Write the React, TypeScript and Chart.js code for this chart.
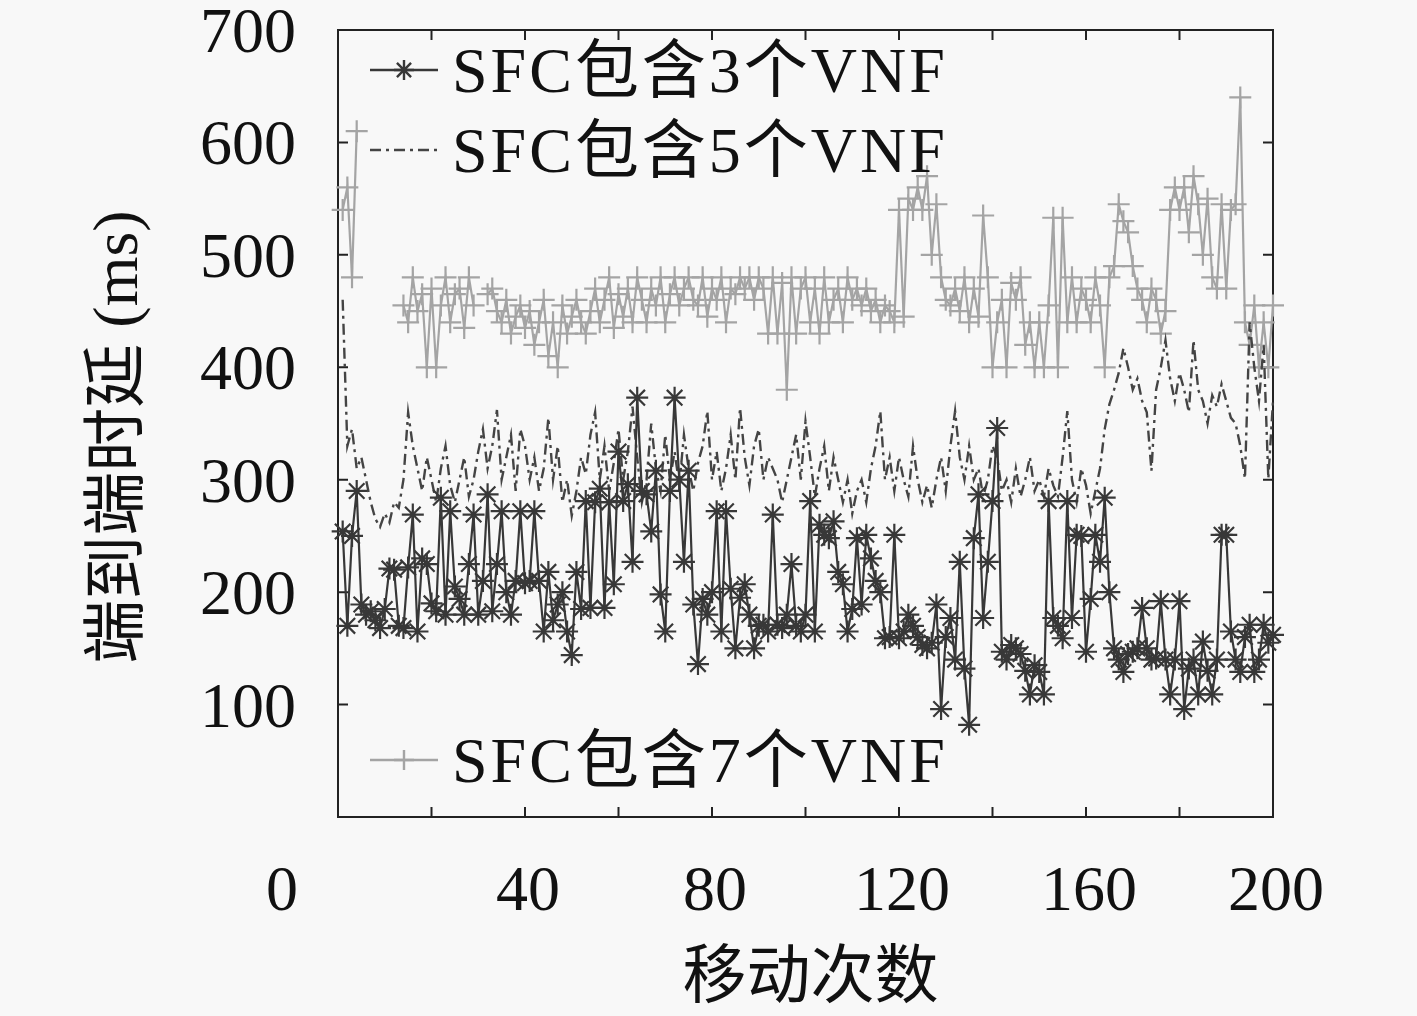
import React, { useEffect, useRef } from 'react';
import { Chart, registerables } from 'chart.js';

Chart.register(...registerables);

// 移动次数 1..200
const vnf3: number[] = [
  254, 170, 250, 290, 189, 180, 183, 175, 168, 185, 221, 220, 170, 168, 222, 269, 165, 230, 225, 190,
  183, 284, 180, 272, 205, 194, 180, 225, 269, 180, 210, 287, 183, 225, 272, 200, 180, 210, 272, 208,
  210, 272, 210, 165, 218, 175, 189, 200, 165, 144, 218, 185, 281, 186, 280, 292, 186, 280, 207, 325,
  281, 296, 227, 373, 290, 287, 254, 308, 198, 165, 290, 373, 300, 227, 308, 189, 136, 194, 180, 200,
  272, 165, 272, 203, 150, 195, 207, 180, 150, 170, 171, 165, 269, 171, 168, 180, 225, 170, 165, 180,
  281, 165, 260, 251, 248, 263, 218, 207, 165, 185, 248, 189, 251, 230, 210, 200, 159, 160, 251, 159,
  165, 180, 170, 160, 153, 150, 155, 189, 96, 160, 177, 140, 227, 132, 82, 248, 287, 177, 227, 281,
  346, 147, 140, 153, 150, 145, 130, 109, 135, 129, 109, 281, 177, 170, 159, 281, 177, 251, 250, 147,
  194, 251, 227, 284, 200, 150, 140, 129, 145, 147, 150, 186, 150, 140, 141, 192, 140, 109, 140, 192,
  96, 132, 140, 109, 156, 130, 109, 140, 251, 251, 165, 140, 129, 160, 171, 129, 140, 171, 155, 162
];

const vnf5: number[] = [
  460, 330, 345, 310, 320, 300, 280, 265, 258, 270, 262, 280, 275, 300, 360, 330, 310, 290, 320, 300,
  280, 310, 330, 295, 280, 300, 320, 285, 300, 325, 345, 310, 330, 362, 300, 320, 340, 290, 345, 330,
  300, 320, 290, 310, 355, 300, 330, 280, 300, 268, 290, 320, 305, 340, 360, 300, 330, 290, 315, 345,
  300, 325, 365, 320, 280, 300, 350, 310, 290, 340, 300, 325, 295, 340, 310, 290, 315, 330, 361, 300,
  325, 290, 310, 340, 300, 364, 320, 295, 330, 345, 300, 320, 310, 300, 280, 300, 320, 340, 300, 352,
  320, 285, 310, 330, 290, 320, 300, 280, 300, 270, 290, 300, 280, 310, 330, 361, 300, 320, 290, 320,
  300, 285, 330, 300, 280, 295, 275, 300, 320, 290, 330, 361, 320, 300, 330, 300, 310, 285, 300, 330,
  320, 290, 300, 280, 310, 285, 300, 320, 290, 300, 285, 310, 295, 285, 320, 361, 300, 280, 310, 295,
  270, 290, 310, 345, 367, 380, 395, 417, 400, 380, 390, 370, 360, 308, 380, 400, 424, 390, 370, 395,
  380, 360, 424, 380, 370, 350, 375, 365, 385, 370, 355, 350, 330, 301, 440, 400, 370, 420, 301, 370
];

const vnf7: (number | null)[] = [
  540, 560, 480, 610, null, null, null, null, null, null, null, null, null, 455, 440, 480, 450, 465, 400, 470,
  400, 455, 480, 440, 465, 470, 435, 480, 455, null, null, 465, 470, 450, 440, 460, 430, 445, 455, 435,
  450, 420, 440, 460, 410, 440, 400, 455, 430, 445, 460, 440, 430, 450, 470, 440, 460, 480, 435, 465,
  445, 470, 440, 480, 460, 440, 470, 455, 480, 440, 465, 480, 455, 470, 480, 460, 455, 480, 445, 470,
  460, 480, 440, 470, 465, 480, 470, 480, 460, 480, 470, 430, 480, 430, 475, 380, 480, 430, 470, 480,
  440, 470, 430, 480, 440, 460, 470, 440, 480, 460, 470, 455, 470, 450, 460, 440, 455, 450, 440, 540,
  445, 550, 540, 560, 540, 570, 500, 545, 480, 460, 455, 470, 450, 480, 440, 470, 445, 535, 480, 400,
  440, 460, 400, 475, 460, 480, 420, 440, 400, 440, 400, 455, 533, 400, 533, 440, 480, 440, 470, 460,
  440, 480, 455, 400, 480, 490, 545, 530, 520, 490, 470, 460, 440, 470, 460, 430, 450, 540, 560, 540,
  560, 520, 570, 545, 500, 550, 480, 470, 545, 470, 540, 545, 640, 440, 420, 455, 400, 440, 400, 455
];

const seriesNames = ['SFC包含3个VNF', 'SFC包含5个VNF', 'SFC包含7个VNF'];
const yTicks = [100, 200, 300, 400, 500, 600, 700];
const xLabelTicks = [0, 40, 80, 120, 160, 200];
const xTitle = '移动次数';
const yTitle = '端到端时延 (ms)';

const FONT = "64px 'Liberation Serif', 'Noto Sans CJK SC', serif";
const INK = '#111';
const C3 = '#383838';
const C5 = '#444444';
const C7 = '#a4a4a4';
const DASH5 = [11, 5, 3, 5];

const toPoints = (arr: (number | null)[]) => arr.map((v, i) => ({ x: i + 1, y: v }));

const drawMarker = (ctx: CanvasRenderingContext2D, kind: string, x: number, y: number, r: number) => {
  ctx.beginPath();
  ctx.moveTo(x - r, y);
  ctx.lineTo(x + r, y);
  ctx.moveTo(x, y - r);
  ctx.lineTo(x, y + r);
  if (kind === 'star') {
    const d = r * Math.SQRT1_2;
    ctx.moveTo(x - d, y - d);
    ctx.lineTo(x + d, y + d);
    ctx.moveTo(x - d, y + d);
    ctx.lineTo(x + d, y - d);
  }
  ctx.stroke();
};

const framePlugin = {
  id: 'gnuFrame',
  beforeDatasetsDraw(chart: any) {
    const { ctx, chartArea: a } = chart;
    const xs = chart.scales.x;
    const ys = chart.scales.y;
    ctx.save();
    ctx.strokeStyle = '#222';
    ctx.lineWidth = 2;
    ctx.strokeRect(a.left, a.top, a.right - a.left, a.bottom - a.top);
    ctx.beginPath();
    for (let v = 20; v < 200; v += 20) {
      const px = xs.getPixelForValue(v);
      ctx.moveTo(px, a.bottom);
      ctx.lineTo(px, a.bottom - 10);
      ctx.moveTo(px, a.top);
      ctx.lineTo(px, a.top + 10);
    }
    yTicks.forEach((v) => {
      const py = ys.getPixelForValue(v);
      ctx.moveTo(a.left, py);
      ctx.lineTo(a.left + 10, py);
      ctx.moveTo(a.right, py);
      ctx.lineTo(a.right - 10, py);
    });
    ctx.stroke();
    ctx.restore();
  },
  afterDraw(chart: any) {
    const { ctx, chartArea: a } = chart;
    const xs = chart.scales.x;
    const ys = chart.scales.y;
    ctx.save();
    ctx.fillStyle = INK;
    ctx.font = FONT;

    // y tick labels
    ctx.textAlign = 'right';
    ctx.textBaseline = 'alphabetic';
    yTicks.forEach((v) => {
      ctx.fillText(String(v), a.left - 42, ys.getPixelForValue(v) + 22);
    });

    // x tick labels (the 0 sits off to the left, as in the original)
    ctx.textAlign = 'center';
    xLabelTicks.forEach((v) => {
      let px = xs.getPixelForValue(v);
      if (v === 0) px -= 59;
      ctx.fillText(String(v), px + 3, a.bottom + 93);
    });

    // axis titles
    ctx.textBaseline = 'middle';
    ctx.fillText(xTitle, (a.left + a.right) / 2 + 5, 980);
    ctx.save();
    ctx.translate(120, 437);
    ctx.rotate(-Math.PI / 2);
    ctx.fillText(yTitle, 0, 0);
    ctx.restore();

    // legend
    const rows = [
      { y: 70, color: C3, dash: [] as number[], marker: 'star' },
      { y: 150, color: C5, dash: DASH5, marker: '' },
      { y: 760, color: C7, dash: [] as number[], marker: 'cross' }
    ];
    rows.forEach((r, i) => {
      ctx.strokeStyle = r.color;
      ctx.lineWidth = 2.4;
      ctx.setLineDash(r.dash);
      ctx.beginPath();
      ctx.moveTo(370, r.y);
      ctx.lineTo(438, r.y);
      ctx.stroke();
      ctx.setLineDash([]);
      if (r.marker) drawMarker(ctx, r.marker, 404, r.y, 10);
      ctx.fillStyle = INK;
      ctx.textAlign = 'left';
      ctx.textBaseline = 'alphabetic';
      (ctx as any).letterSpacing = '3px';
      ctx.fillText(seriesNames[i], 452, r.y + 22);
      (ctx as any).letterSpacing = '0px';
    });
    ctx.restore();
  }
};

const App: React.FC = () => {
  const canvasRef = useRef<HTMLCanvasElement>(null);
  const chartRef = useRef<Chart | null>(null);

  useEffect(() => {
    const ctx = canvasRef.current?.getContext('2d');
    if (!ctx) return;
    if (chartRef.current) chartRef.current.destroy();

    chartRef.current = new Chart(ctx, {
      type: 'line',
      data: {
        datasets: [
          {
            label: seriesNames[0],
            data: toPoints(vnf3),
            borderColor: C3,
            borderWidth: 2.2,
            pointStyle: 'star',
            pointRadius: 11,
            pointBorderColor: C3,
            pointBorderWidth: 2.2,
            pointBackgroundColor: C3,
            clip: false as any,
            order: 0
          },
          {
            label: seriesNames[1],
            data: toPoints(vnf5),
            borderColor: C5,
            borderWidth: 2.4,
            borderDash: DASH5,
            pointRadius: 0,
            clip: false as any,
            order: 1
          },
          {
            label: seriesNames[2],
            data: toPoints(vnf7),
            borderColor: C7,
            borderWidth: 2.2,
            pointStyle: 'cross',
            pointRadius: 11,
            pointBorderColor: C7,
            pointBorderWidth: 2.2,
            spanGaps: false,
            clip: false as any,
            order: 2
          }
        ]
      },
      options: {
        responsive: true,
        maintainAspectRatio: false,
        animation: false,
        layout: {
          padding: { left: 338, right: 144, top: 30, bottom: 199 }
        },
        plugins: {
          legend: { display: false },
          tooltip: { enabled: false }
        },
        scales: {
          x: { type: 'linear', min: 0, max: 200, display: false },
          y: { type: 'linear', min: 0, max: 700, display: false }
        }
      },
      plugins: [framePlugin]
    });

    return () => {
      if (chartRef.current) {
        chartRef.current.destroy();
        chartRef.current = null;
      }
    };
  }, []);

  return (
    <div
      style={{
        position: 'fixed',
        left: 0,
        top: 0,
        width: '1417px',
        height: '1016px',
        background: '#f8f8f8'
      }}
    >
      <canvas ref={canvasRef} />
    </div>
  );
};

export default App;
